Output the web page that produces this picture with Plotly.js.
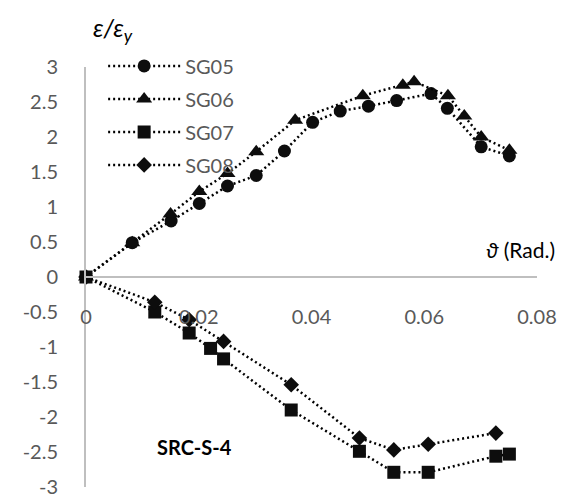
<!DOCTYPE html>
<html>
<head>
<meta charset="utf-8">
<script src="https://cdn.plot.ly/plotly-3.0.1.min.js"></script>
<style>html,body{margin:0;padding:0;background:#fff;}#chart{width:561px;height:498px;}</style>
</head>
<body>
<div id="chart"></div>
<script>
// Data
var theta05 = [0, 0.0082, 0.0151, 0.0201, 0.0251, 0.0302, 0.0352, 0.0402, 0.0451, 0.0501, 0.0551, 0.0612, 0.0641, 0.0701, 0.0751];
var sg05    = [0, 0.49, 0.80, 1.05, 1.30, 1.45, 1.80, 2.21, 2.37, 2.44, 2.52, 2.62, 2.41, 1.86, 1.73];

var theta06 = [0, 0.0082, 0.0150, 0.0201, 0.0251, 0.0302, 0.0371, 0.0491, 0.0562, 0.0582, 0.0642, 0.0671, 0.0701, 0.0751];
var sg06    = [0, 0.49, 0.90, 1.22, 1.48, 1.79, 2.24, 2.59, 2.74, 2.79, 2.59, 2.30, 2.00, 1.81];

var theta07 = [0, 0.0122, 0.0183, 0.0221, 0.0244, 0.0364, 0.0485, 0.0546, 0.0607, 0.0727, 0.0751];
var sg07    = [0, -0.50, -0.80, -1.02, -1.17, -1.90, -2.49, -2.79, -2.79, -2.56, -2.53];

var theta08 = [0, 0.0122, 0.0183, 0.0244, 0.0364, 0.0485, 0.0546, 0.0607, 0.0727];
var sg08    = [0, -0.36, -0.61, -0.92, -1.54, -2.30, -2.47, -2.39, -2.23];

var seriesNames = ["SG05", "SG06", "SG07", "SG08"];

var yTickVals  = [-3, -2.5, -2, -1.5, -1, -0.5, 0, 0.5, 1, 1.5, 2, 2.5, 3];
var yTickText  = ["-3", "-2.5", "-2", "-1.5", "-1", "-0.5", "0", "0.5", "1", "1.5", "2", "2.5", "3"];
var xTickVals  = [0, 0.02, 0.04, 0.06, 0.08];
var xTickText  = ["0", "0.02", "0.04", "0.06", "0.08"];

var FONT = "Lato, 'Liberation Sans', Arial, sans-serif";
var lineStyle = {color: "#000000", width: 2.5, dash: "2px,3px"};

function mk(x, y, name, symbol, size) {
  return {
    x: x, y: y, name: name, type: "scatter", mode: "lines+markers",
    legendgroup: name,
    line: lineStyle,
    marker: {symbol: symbol, size: size, color: "#0d0d0d"},
    cliponaxis: false
  };
}

var data = [
  mk(theta05, sg05, seriesNames[0], "circle", 13),
  mk(theta06, sg06, seriesNames[1], "triangle-up", 14),
  mk(theta07, sg07, seriesNames[2], "square", 13),
  mk(theta08, sg08, seriesNames[3], "diamond", 12)
];

var layout = {
  width: 561, height: 498,
  margin: {l: 86, r: 24, t: 67, b: 11, pad: 0},
  paper_bgcolor: "#ffffff", plot_bgcolor: "#ffffff",
  font: {family: FONT, size: 20, color: "#595959"},
  showlegend: true,
  legend: {
    x: 0.038, y: 1.049, xanchor: "left", yanchor: "top",
    bgcolor: "rgba(0,0,0,0)", borderwidth: 0,
    font: {family: FONT, size: 20, color: "#595959"},
    itemwidth: 72,
    traceorder: "grouped", tracegroupgap: 4
  },
  xaxis: {
    range: [0, 0.08],
    anchor: "free", position: 0.5,
    showline: true, linecolor: "#bfbfbf", linewidth: 2,
    showgrid: false, zeroline: false,
    tickvals: xTickVals, ticktext: xTickText,
    ticks: "", ticklabelstandoff: 22,
    tickfont: {family: FONT, size: 20, color: "#595959"}
  },
  yaxis: {
    range: [-3, 3],
    showline: true, linecolor: "#bfbfbf", linewidth: 2,
    showgrid: false, zeroline: false,
    tickvals: yTickVals, ticktext: yTickText,
    ticks: "", ticklabelstandoff: 22,
    tickfont: {family: FONT, size: 20, color: "#595959"}
  },
  annotations: [
    {xref: "paper", yref: "paper", x: 0.012, y: 1.045, xanchor: "left", yanchor: "bottom",
     text: "<i>ε/ε<sub>y</sub></i>", showarrow: false,
     font: {family: FONT, size: 25, color: "#000000"}},
    {xref: "paper", yref: "paper", x: 1.045, y: 0.565, xanchor: "right", yanchor: "middle",
     text: "<i>ϑ</i> (Rad.)", showarrow: false,
     font: {family: FONT, size: 21, color: "#000000"}},
    {xref: "paper", yref: "paper", x: 0.24, y: 0.096, xanchor: "center", yanchor: "middle",
     text: "<b>SRC-S-4</b>", showarrow: false,
     font: {family: FONT, size: 20, color: "#000000"}}
  ]
};

Plotly.newPlot("chart", data, layout, {staticPlot: true, displayModeBar: false});
</script>
</body>
</html>
